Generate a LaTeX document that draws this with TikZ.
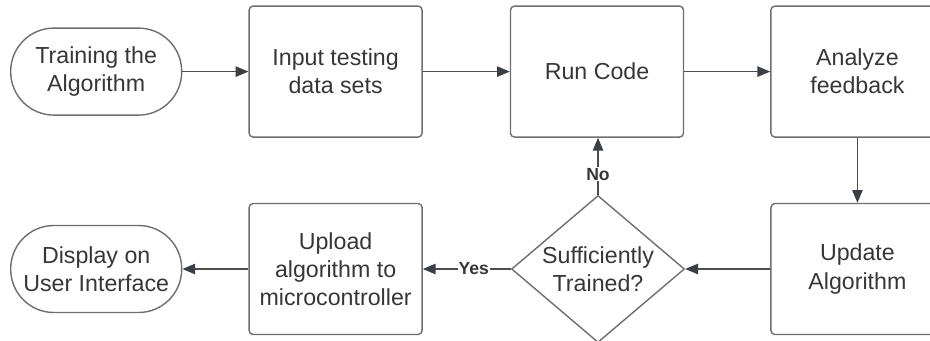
\documentclass[tikz,border=0pt]{standalone}
\usepackage{fontspec}
\setmainfont{Liberation Sans}
\usetikzlibrary{shapes,arrows.meta,positioning}
\definecolor{edgegray}{HTML}{6E6E6E}
\definecolor{linegray}{HTML}{4D4D4D}
\definecolor{tipgray}{HTML}{3A3E45}
\definecolor{textgray}{HTML}{363636}

\begin{document}
\begin{tikzpicture}[
    node distance=1.625cm and 2.15cm,
    box/.style={rectangle, draw=edgegray, line width=1pt, rounded corners=0.1cm, minimum width=4.325cm, minimum height=3.275cm, align=center, text=textgray},
    terminal/.style={rectangle, draw=edgegray, line width=1pt, rounded corners=1.08cm, minimum width=4.275cm, minimum height=2.175cm, align=center, text=textgray},
    decision/.style={diamond, draw=edgegray, line width=1pt, inner sep=0pt, shape aspect=1.18, minimum width=4.325cm, minimum height=3.675cm, align=center, text=textgray},
    arrow/.style={-{Triangle[length=0.32cm, width=0.26cm, color=tipgray]}, draw=linegray, line width=1pt},
    lbl/.style={fill=white, inner sep=0.5pt, font=\bfseries\fontsize{12.5}{14}\selectfont, text=textgray},
    font=\fontsize{16.5}{20}\selectfont
]
\useasboundingbox (0,0) rectangle (23.25,-8.525);
\clip (0,0) rectangle (23.25,-8.525);
% Top row
\node[box] (input) at (8.39,-1.79) {Input testing\\data sets};
\node[terminal, left=1.65cm of input] (train) {Training the\\Algorithm};
\node[box, right=2.175cm of input] (run) {Run Code};
\node[box, right=2.15cm of run] (analyze) {Analyze\\feedback};
% Bottom row
\node[box, below=of analyze] (update) {Update\\Algorithm};
\node[decision, left=2.125cm of update] (check) {Sufficiently\\Trained?};
\node[box, left=2.2cm of check] (upload) {Upload\\algorithm to\\microcontroller};
\node[terminal, left=1.65cm of upload] (display) {Display on\\User Interface};
% Arrows
\draw[arrow] (train) -- (input);
\draw[arrow] (input) -- (run);
\draw[arrow] (run) -- (analyze);
\draw[arrow] (analyze) -- (update);
\draw[arrow] (update) -- (check);
\draw[arrow] (check) -- node[lbl, pos=0.36] {No} (check |- run.south);
\draw[arrow] (check) -- node[lbl, pos=0.42] {Yes} (upload);
\draw[arrow] (upload) -- (display);
\end{tikzpicture}
\end{document}
